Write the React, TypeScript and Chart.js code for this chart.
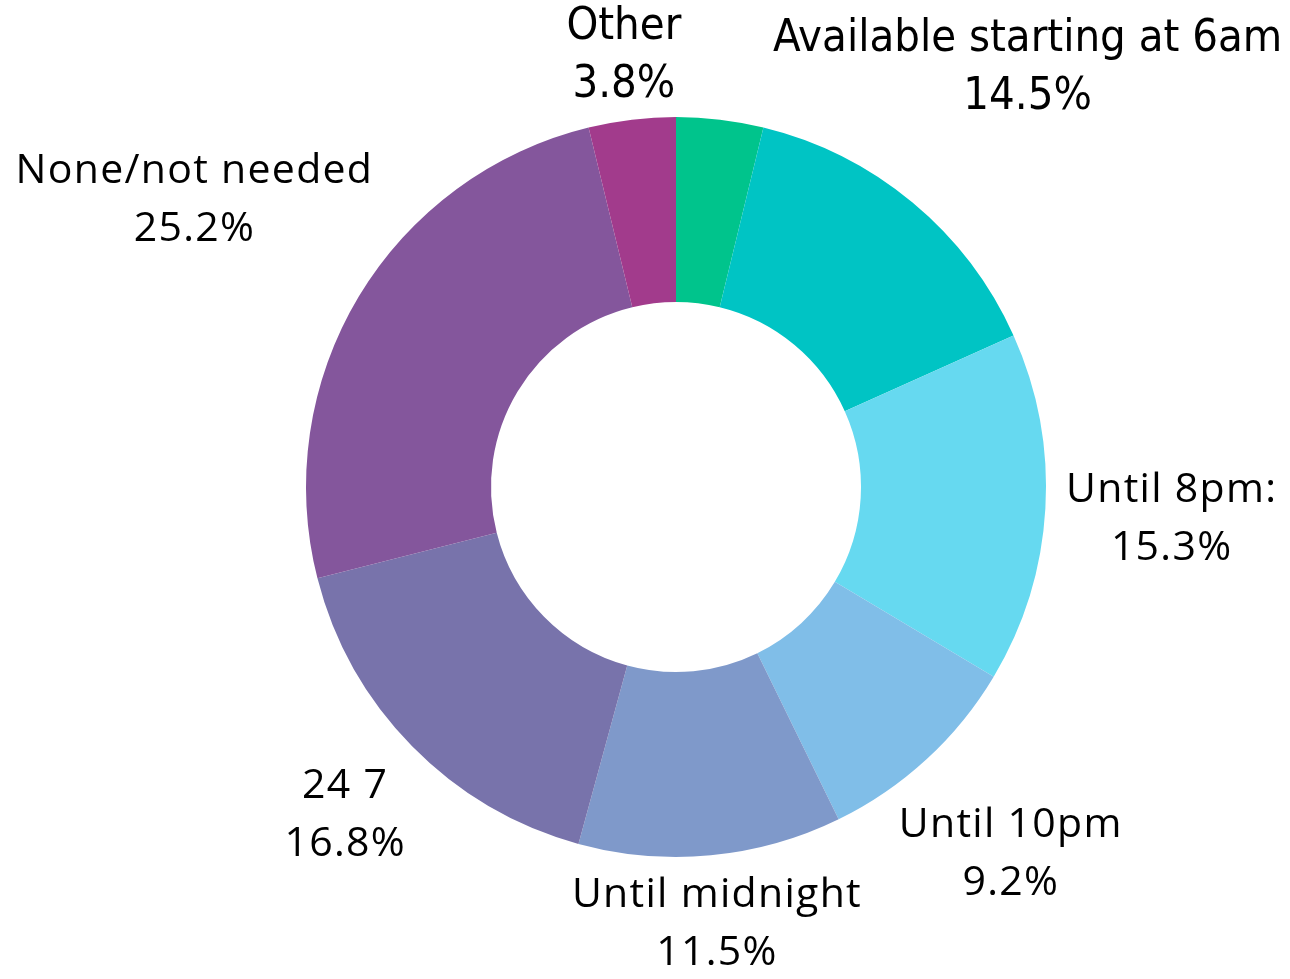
import React, { useEffect, useRef } from "react";
import { Chart, registerables } from "chart.js";

Chart.register(...registerables);

const categories: string[] = [
  "",
  "Available starting at 6am",
  "Until 8pm:",
  "Until 10pm",
  "Until midnight",
  "24 7",
  "None/not needed",
  "Other",
];
const values: number[] = [3.8, 14.5, 15.3, 9.2, 11.5, 16.8, 25.2, 3.8];
const colors: string[] = [
  "#00C48C",
  "#00C4C4",
  "#66D9F0",
  "#80BEE8",
  "#7F99CA",
  "#7873AB",
  "#84569C",
  "#A23B8C",
];
const condensedLabels: string[] = ["Available starting at 6am", "Other"];

const labelPlugin = {
  id: "outsideLabels",
  afterDraw(chart: any) {
    const ctx = chart.ctx;
    const meta = chart.getDatasetMeta(0);
    const ds = chart.data.datasets[0];
    const labels = chart.data.labels as string[];
    meta.data.forEach((arc: any, i: number) => {
      const name = labels[i];
      if (!name) return;
      const cx = arc.x;
      const cy = arc.y;
      const a = (arc.startAngle + arc.endAngle) / 2;
      const condensed = condensedLabels.includes(name);
      const fontSize = condensed ? 45 : 41;
      const family = condensed
        ? '"Liberation Sans Narrow", "DejaVu Sans Condensed", sans-serif'
        : '"Open Sans", "Noto Sans", sans-serif';
      ctx.save();
      ctx.font = `${fontSize}px ${family}`;
      (ctx as any).letterSpacing = condensed ? "0px" : "1.3px";
      ctx.fillStyle = "#000000";
      ctx.textAlign = "center";
      ctx.textBaseline = "alphabetic";
      const lines = [name, `${(ds.data[i] as number).toFixed(1)}%`];
      const lineH = 58;
      const cap = fontSize * 0.72;
      const w = Math.max(...lines.map((l) => ctx.measureText(l).width));
      const h = cap + lineH * (lines.length - 1);
      const R = arc.outerRadius + 20;
      const ux = Math.cos(a);
      const uy = Math.sin(a);
      const nearest = (d: number) => {
        const bx = ux * d;
        const by = uy * d;
        const x1 = bx - w / 2, x2 = bx + w / 2, y1 = by - h / 2, y2 = by + h / 2;
        const nx = Math.min(Math.max(0, x1), x2);
        const ny = Math.min(Math.max(0, y1), y2);
        return Math.hypot(nx, ny);
      };
      let lo = 0, hi = 2000;
      for (let k = 0; k < 60; k++) {
        const mid = (lo + hi) / 2;
        if (nearest(mid) >= R) hi = mid; else lo = mid;
      }
      const bx = cx + ux * hi;
      const by = cy + uy * hi;
      const top = by - h / 2;
      lines.forEach((l, j) => {
        ctx.fillText(l, bx, top + cap + j * lineH);
      });
      ctx.restore();
    });
  },
};

export default function App() {
  const ref = useRef<HTMLCanvasElement | null>(null);
  useEffect(() => {
    if (!ref.current) return;
    const chart = new Chart(ref.current, {
      type: "doughnut",
      data: {
        labels: categories,
        datasets: [
          {
            data: values,
            backgroundColor: colors,
            borderWidth: 0,
          },
        ],
      },
      options: {
        responsive: false,
        animation: false,
        cutout: "50%",
        layout: { padding: { left: 306, right: 244, top: 117, bottom: 122 } },
        plugins: {
          legend: { display: false },
          tooltip: { enabled: false },
        },
      },
      plugins: [labelPlugin],
    });
    return () => chart.destroy();
  }, []);
  return (
    <div style={{ position: "absolute", left: 0, top: 0, width: 1290, height: 979, background: "#fff" }}>
      <canvas ref={ref} width={1290} height={979} style={{ width: 1290, height: 979 }} />
    </div>
  );
}
